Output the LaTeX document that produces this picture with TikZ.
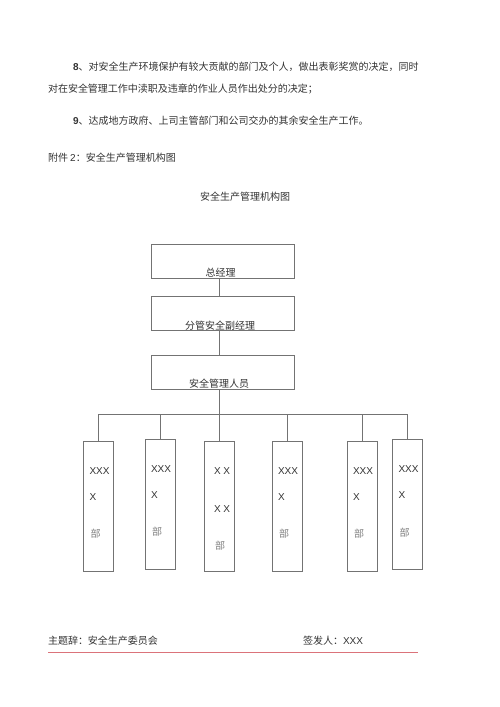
\documentclass[tikz,border=0pt]{standalone}
\usepackage{fontspec}
\setmainfont{Liberation Sans}
\newfontfamily\cjk{Noto Sans CJK SC}
\usetikzlibrary{calc}
\definecolor{txt}{rgb}{0.2,0.2,0.2}
\definecolor{ln}{rgb}{0.45,0.45,0.45}
\definecolor{redline}{rgb}{0.86,0.45,0.48}
\tikzset{
  every node/.style={inner sep=0pt,outer sep=0pt,text=txt,font=\fontsize{10}{12}\selectfont},
  body/.style={anchor=west},
  topbox/.style={draw=ln,line width=0.9pt,minimum width=143pt,minimum height=34pt},
  deptbox/.style={draw=ln,line width=0.9pt,minimum width=30pt,minimum height=130pt},
  conn/.style={draw=ln,line width=0.9pt},
  lbl/.style={anchor=west,font=\fontsize{10}{12}\selectfont}
}
\begin{document}
\begin{tikzpicture}[x=1pt,y=-1pt]
\useasboundingbox (0,0) rectangle (500,707);
\fill[white] (0,0) rectangle (500,707);
% body text
\node[body] (l1) at (73,67) {\textbf{8}{\cjk 、对安全生产环境保护有较大贡献的部门及个人，做出表彰奖赏的决定，同时}};
\node[body] (l2) at (48,89) {\cjk 对在安全管理工作中渎职及违章的作业人员作出处分的决定；};
\node[body] (l3) at (73,121) {\textbf{9}{\cjk 、达成地方政府、上司主管部门和公司交办的其余安全生产工作。}};
\node[body] (l4) at (48,158) {{\cjk 附件 }2{\cjk ：安全生产管理机构图}};
\node (title) at (245,197) {\cjk 安全生产管理机构图};
% top boxes
\node[topbox] (gm) at (222.5,261) {};
\node[topbox] (vgm) at (222.5,313.5) {};
\node[topbox] (mgr) at (222.5,372.5) {};
\node (tgm) at (220.5,273) {\cjk 总经理};
\node (tvgm) at (220,326) {\cjk 分管安全副经理};
\node (tmgr) at (219,384) {\cjk 安全管理人员};
\coordinate (spine) at (219,0);
\coordinate (bus) at (0,414);
% dept boxes
\node[deptbox] (d1) at (98.5,506) {};
\node[deptbox] (d2) at (160,504) {};
\node[deptbox] (d3) at (219,506) {};
\node[deptbox] (d4) at (287,506) {};
\node[deptbox] (d5) at (362,506) {};
\node[deptbox] (d6) at (407.5,504.5) {};
% connectors
\draw[conn] (gm.south -| spine) -- (vgm.north -| spine);
\draw[conn] (vgm.south -| spine) -- (mgr.north -| spine);
\draw[conn] (mgr.south -| spine) -- (d3.north);
\draw[conn] (d1.north |- bus) -- (d6.north |- bus);
\foreach \d in {d1,d2,d4,d5,d6} { \draw[conn] (\d.north |- bus) -- (\d.north); }
% dept texts
\foreach \d in {d1,d2,d4,d5,d6} {
  \node[lbl] (\d a) at ($(\d.west)+(6,-35)$) {XXX};
  \node[lbl] (\d b) at ($(\d.west)+(6,-9)$) {X};
  \node[lbl] (\d c) at ($(\d.west)+(7,28)$) {\cjk\color{gray} 部};
}
\node[lbl] (d3a) at ($(d3.west)+(10,-35)$) {X X};
\node[lbl] (d3b) at ($(d3.west)+(10,3)$) {X X};
\node[lbl] (d3c) at ($(d3.west)+(11,40)$) {\cjk\color{gray} 部};
% footer
\node[body] (f1) at (48,641) {\cjk 主题辞：安全生产委员会};
\node[body] (f2) at (303,641) {{\cjk 签发人：}XXX};
\coordinate (r1) at (48,652);
\coordinate (r2) at (418,652);
\draw[redline,line width=0.8pt] (r1) -- (r2);
\end{tikzpicture}
\end{document}
